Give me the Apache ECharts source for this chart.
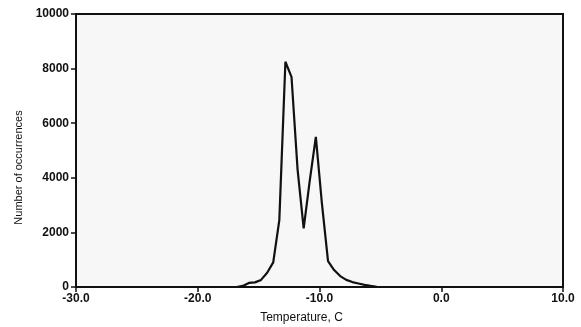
<!DOCTYPE html>
<html>
<head>
<meta charset="utf-8">
<script src="https://cdn.jsdelivr.net/npm/echarts@6/dist/echarts.min.js"></script>
<style>
  html, body { margin: 0; padding: 0; background: #fff; }
  #chart { width: 581px; height: 327px; }
</style>
</head>
<body>
<div id="chart"></div>
<script>
// Temperature histogram (0.5 C steps)
const temps = [-16.8, -16.3, -15.8, -15.3, -14.8, -14.3, -13.8, -13.3, -12.8, -12.3, -11.8, -11.3,
  -10.8, -10.3, -9.8, -9.3, -8.8, -8.3, -7.8, -7.3, -6.8, -6.3, -5.8, -5.3]
const counts = [0, 40, 150, 170, 260, 520, 900, 2450, 8250, 7700, 4300, 2150,
  3900, 5500, 3050, 950, 620, 400, 260, 180, 130, 80, 40, 10]

const xTicks = [-30, -20, -10, 0, 10]
const yTicks = [0, 2000, 4000, 6000, 8000, 10000]

const points = temps.map((t, i) => [t, counts[i]])

const chart = echarts.init(document.getElementById('chart'), null, { renderer: 'canvas' })

const axisText = { color: '#111', fontFamily: '"Liberation Sans", Arial, sans-serif', fontSize: 12, fontWeight: 'bold' }

chart.setOption({
  animation: false,
  backgroundColor: '#fff',
  grid: {
    left: 76, right: 18, top: 14, bottom: 40,
    outerBoundsMode: 'none',
    show: true,
    backgroundColor: '#f7f7f7',
    borderColor: '#111',
    borderWidth: 2,
  },
  xAxis: {
    type: 'value',
    min: xTicks[0],
    max: xTicks[xTicks.length - 1],
    interval: 10,
    name: 'Temperature, C',
    nameLocation: 'middle',
    nameGap: 25,
    nameTextStyle: { color: '#111', fontFamily: '"Liberation Sans", Arial, sans-serif', fontSize: 12, padding: [0, 36, 0, 0] },
    axisLine: { onZero: false, lineStyle: { color: '#111', width: 2 } },
    axisTick: { show: true, length: 5, lineStyle: { color: '#111', width: 1.5 } },
    axisLabel: { ...axisText, margin: 6, formatter: v => v.toFixed(1) },
    splitLine: { show: false },
  },
  yAxis: {
    type: 'value',
    min: yTicks[0],
    max: yTicks[yTicks.length - 1],
    interval: 2000,
    name: 'Number of occurrences',
    nameLocation: 'middle',
    nameGap: 50,
    nameTextStyle: { color: '#111', fontFamily: '"Liberation Sans", Arial, sans-serif', fontSize: 11, padding: [0, 34, 0, 0] },
    axisLine: { show: true, onZero: false, lineStyle: { color: '#111', width: 2 } },
    axisTick: { show: true, length: 5, lineStyle: { color: '#111', width: 1.5 } },
    axisLabel: { ...axisText, margin: 7, formatter: v => String(v) },
    splitLine: { show: false },
  },
  series: [{
    type: 'line',
    data: points,
    symbol: 'none',
    lineStyle: { color: '#111', width: 2.2 },
  }],
})
</script>
</body>
</html>
